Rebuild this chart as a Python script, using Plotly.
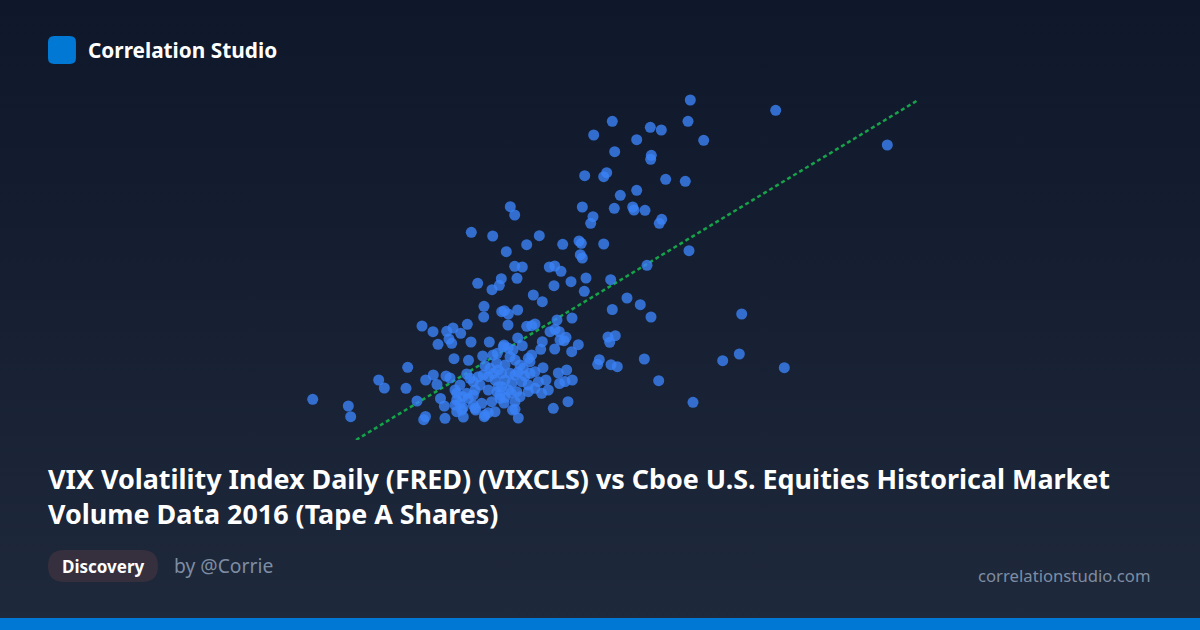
"""
Share card: VIX vs Cboe Tape A volume scatter with a dotted trend line.
The card has no axis labels, so the values below are in plot units read off the picture.
"""

import plotly.graph_objects as go

# ---------------------------------------------------------------------------
# Settings
# ---------------------------------------------------------------------------

WIDTH = 1200
HEIGHT = 630
FONT_FAMILY = "Noto Sans, sans-serif"

BLUE = "#0078d4"
POINT_COLOR = "#3b82f6"
TREND_COLOR = "#16a34a"

TITLE = (
    "VIX Volatility Index Daily (FRED) (VIXCLS) vs Cboe U.S. Equities Historical Market<br>"
    "Volume Data 2016 (Tape A Shares)"
)

# ---------------------------------------------------------------------------
# Data
# ---------------------------------------------------------------------------

vix = [
    390.3, 312.3, 293.7, 350.3, 361.3, 388, 403.7, 336.7, 314.7, 351.3,
    350.7, 284.7, 306.7, 303.7, 365.7, 385.3, 336.7, 320.3, 282.3, 314.3,
    332.7, 334, 345, 361.7, 359.3, 210.3, 214.7, 293, 290.7, 171.3,
    192.7, 239.3, 226.7, 262.7, 279, 281.3, 303.7, 206.3, 280.3, 282.3,
    389, 214.7, 222.3, 249.3, 254.7, 261, 347, 201.3, 177.7, 192,
    199.3, 217, 254, 271, 286, 310.7, 284.3, 233.3, 242.3, 327,
    340.3, 312.3, 351, 441.7, 475.7, 587.3, 308, 315.3, 309.7, 299.3,
    297.7, 311, 317.3, 344.3, 422.7, 439.3, 484.3, 358.7, 393,
    184, 183.7, 122, 133, 146.7, 153, 167.3, 160.7, 149, 151.7,
    138, 171, 189.3, 154, 168.5, 182.7, 201.7, 204.3, 208.3, 217.7,
    208, 204, 208, 197.3, 193, 226.7, 231.7, 235, 257, 272,
    250, 255, 259.3, 266, 260, 264, 217.7, 222.3, 242.3, 240.7,
    254.7, 278.3, 271.7, 203.3, 213, 210, 215, 231.7, 228.3,
    12.7, 48.3, 50.7, 78.7, 84.3, 106, 107.7, 117, 125.7, 133.3,
    137, 146, 150, 140.5, 144.3, 125.5, 123.7, 145,
    166.7, 185, 196.7, 155, 160, 163.3, 156.7, 155, 160, 156.7,
    161.7, 168.3, 173.3, 175, 181.7, 185, 188.3, 195, 191.7, 188.3,
    173.3, 178.3, 188.3, 190, 170, 183.3, 193.3, 198.3, 200, 162.7,
    156.7, 166.7, 163, 173.3, 175.7, 184.3, 243, 266.7, 258.3, 272.3,
    265, 259.5, 248.3, 241.7, 253.3, 268, 218.3, 212.5, 215, 205,
    215, 220, 228.3, 238.3, 228.3, 221.7, 235, 230, 223.3, 230,
    205, 210, 201.7, 215, 198.3, 201.7, 208.3, 216.7, 200, 235,
    205, 212, 195, 180, 175, 218, 220, 246, 197, 204,
    211, 225,
]

tape_a_shares = [
    340, 318.7, 305, 312.7, 310, 318.7, 299.7, 300.3, 288.3, 284.7,
    280.7, 264.3, 267.3, 263.3, 260.7, 258.7, 249.7, 244.7, 233, 231.7,
    233, 230, 229.7, 220.7, 216.7, 233.3, 225, 223.3, 216.7, 207.7,
    204, 204.3, 195.3, 195.7, 199, 196.7, 196, 188.3, 185.3, 182,
    189.3, 173.7, 173, 173, 174, 168.7, 174.7, 161.3, 156.7, 150.3,
    154.7, 161.7, 154.3, 158.3, 162, 160.3, 148.7, 145, 138.3, 142,
    135.3, 130.5, 123, 126, 329.7, 295, 103, 104.3, 97.7, 80.3,
    75.7, 75.3, 73.3, 81, 79.3, 86, 72.3, 59.3, 37.7,
    133.7, 123, 114, 108.3, 108.7, 112, 115.7, 106.7, 101, 96.7,
    95.7, 98, 98, 81.3, 79.7, 84, 128.3, 129.3, 126, 130,
    115, 95, 92, 86.7, 85, 113.7, 114.3, 116, 120, 122,
    108.3, 110.7, 108.3, 102.7, 100, 99.3, 102, 94.3, 98.3, 90.7,
    91, 95.3, 88.3, 93.3, 90, 83.3, 80, 85, 81.7,
    40.7, 34, 23.3, 60, 52, 51.7, 72.7, 39, 60, 65,
    55.5, 64, 62, 41.5, 34, 23.5, 20.3, 21.7,
    66, 74.3, 76.7, 50, 55, 23, 40, 35, 36.7, 28.3,
    30, 41.7, 45, 31.7, 36.7, 25, 27.3, 28.3, 38.3, 50,
    58.3, 63.3, 63.3, 71.7, 61.7, 65, 66.7, 70, 41.7, 43.3,
    46.7, 46.7, 32, 35, 30, 23.3, 72.3, 70, 67, 60,
    58.5, 56.5, 50, 46.7, 31.7, 38.3, 22, 30, 30.7, 42.7,
    38.3, 43.3, 48.3, 58.3, 55, 58.3, 68.3, 66.7, 71.7, 78.3,
    75, 66.7, 66.7, 65, 53.3, 53.3, 50, 48.3, 45, 51.7,
    60, 57, 60, 55, 50, 68, 75, 60, 48, 37,
    47, 64,
]

trend_x = [56, 616.5]
trend_y = [0, 339]

# ---------------------------------------------------------------------------
# Figure
# ---------------------------------------------------------------------------

fig = go.Figure()

# Card background sits on the first axes, which span the whole page
fig.add_trace(go.Scatter(
    x=[0, 1, 1, 0, 0],
    y=[0, 0, 1, 1, 0],
    mode="none",
    fill="toself",
    fillgradient=dict(
        type="vertical",
        colorscale=[[0, "#1e293b"], [1, "#0f172a"]],
    ),
    hoverinfo="skip",
    showlegend=False,
    xaxis="x",
    yaxis="y",
))

fig.add_trace(go.Scatter(
    x=trend_x,
    y=trend_y,
    mode="lines",
    line=dict(color=TREND_COLOR, width=2.5, dash="4px,3px"),
    showlegend=False,
    xaxis="x2",
    yaxis="y2",
))

fig.add_trace(go.Scatter(
    x=vix,
    y=tape_a_shares,
    mode="markers",
    marker=dict(color=POINT_COLOR, size=11, opacity=0.8, line=dict(width=0)),
    cliponaxis=False,
    showlegend=False,
    xaxis="x2",
    yaxis="y2",
))

hidden = dict(visible=False, showgrid=False, zeroline=False, fixedrange=True)

fig.update_layout(
    width=WIDTH,
    height=HEIGHT,
    margin=dict(t=0, b=0, l=0, r=0),
    paper_bgcolor="#0f172a",
    plot_bgcolor="rgba(0,0,0,0)",
    font=dict(family=FONT_FAMILY, color="white"),
    xaxis=dict(domain=[0, 1], range=[0, 1], **hidden),
    yaxis=dict(domain=[0, 1], range=[0, 1], **hidden),
    xaxis2=dict(domain=[300 / WIDTH, 920 / WIDTH], range=[0, 620], anchor="y2", **hidden),
    yaxis2=dict(domain=[190 / HEIGHT, 535 / HEIGHT], range=[0, 345], anchor="x2", **hidden),
)

# Logo square, category pill and the bottom bar
fig.add_shape(
    type="path",
    xref="paper", yref="paper", layer="above",
    path=(
        "M 0.0450 0.9429 L 0.0583 0.9429 Q 0.0633 0.9429 0.0633 0.9333 "
        "L 0.0633 0.9079 Q 0.0633 0.8984 0.0583 0.8984 L 0.0450 0.8984 "
        "Q 0.0400 0.8984 0.0400 0.9079 L 0.0400 0.9333 Q 0.0400 0.9429 0.0450 0.9429 Z"
    ),
    fillcolor=BLUE,
    line=dict(width=0),
)
fig.add_shape(
    type="path",
    xref="paper", yref="paper", layer="above",
    path=(
        "M 0.0533 0.1270 L 0.1183 0.1270 Q 0.1317 0.1270 0.1317 0.1016 "
        "Q 0.1317 0.0762 0.1183 0.0762 L 0.0533 0.0762 "
        "Q 0.0400 0.0762 0.0400 0.1016 Q 0.0400 0.1270 0.0533 0.1270 Z"
    ),
    fillcolor="#362f3e",
    line=dict(width=0),
)
fig.add_shape(
    type="rect",
    xref="paper", yref="paper", layer="above",
    x0=0, x1=1, y0=0, y1=12 / HEIGHT,
    fillcolor=BLUE,
    line=dict(width=0),
)


def add_text(text, x_px, y_px, size, color="white", bold=False, xanchor="left", align="left"):
    fig.add_annotation(
        x=x_px / WIDTH,
        y=1 - y_px / HEIGHT,
        xref="paper",
        yref="paper",
        text=f"<b>{text}</b>" if bold else text,
        showarrow=False,
        xanchor=xanchor,
        yanchor="middle",
        align=align,
        font=dict(family=FONT_FAMILY, size=size, color=color),
    )


# Annotations carry about 2px of padding, hence the offsets on left and right edges
add_text("Correlation Studio", 86, 50, 20.8, bold=True)
add_text(TITLE, 46, 496, 26.9, bold=True)
add_text("Discovery", 103, 566, 17, bold=True, xanchor="center", align="center")
add_text("by @Corrie", 172, 565.5, 19.3, color="#7e8da3")
add_text("correlationstudio.com", 1153, 575, 16.7, color="#7e8da3", xanchor="right", align="right")

# The page's default body margin would show as a white frame round the card
fig.write_html(
    "out.html",
    config=dict(displayModeBar=False),
    post_script="document.body.style.margin = '0'; document.body.style.overflow = 'hidden';",
)
